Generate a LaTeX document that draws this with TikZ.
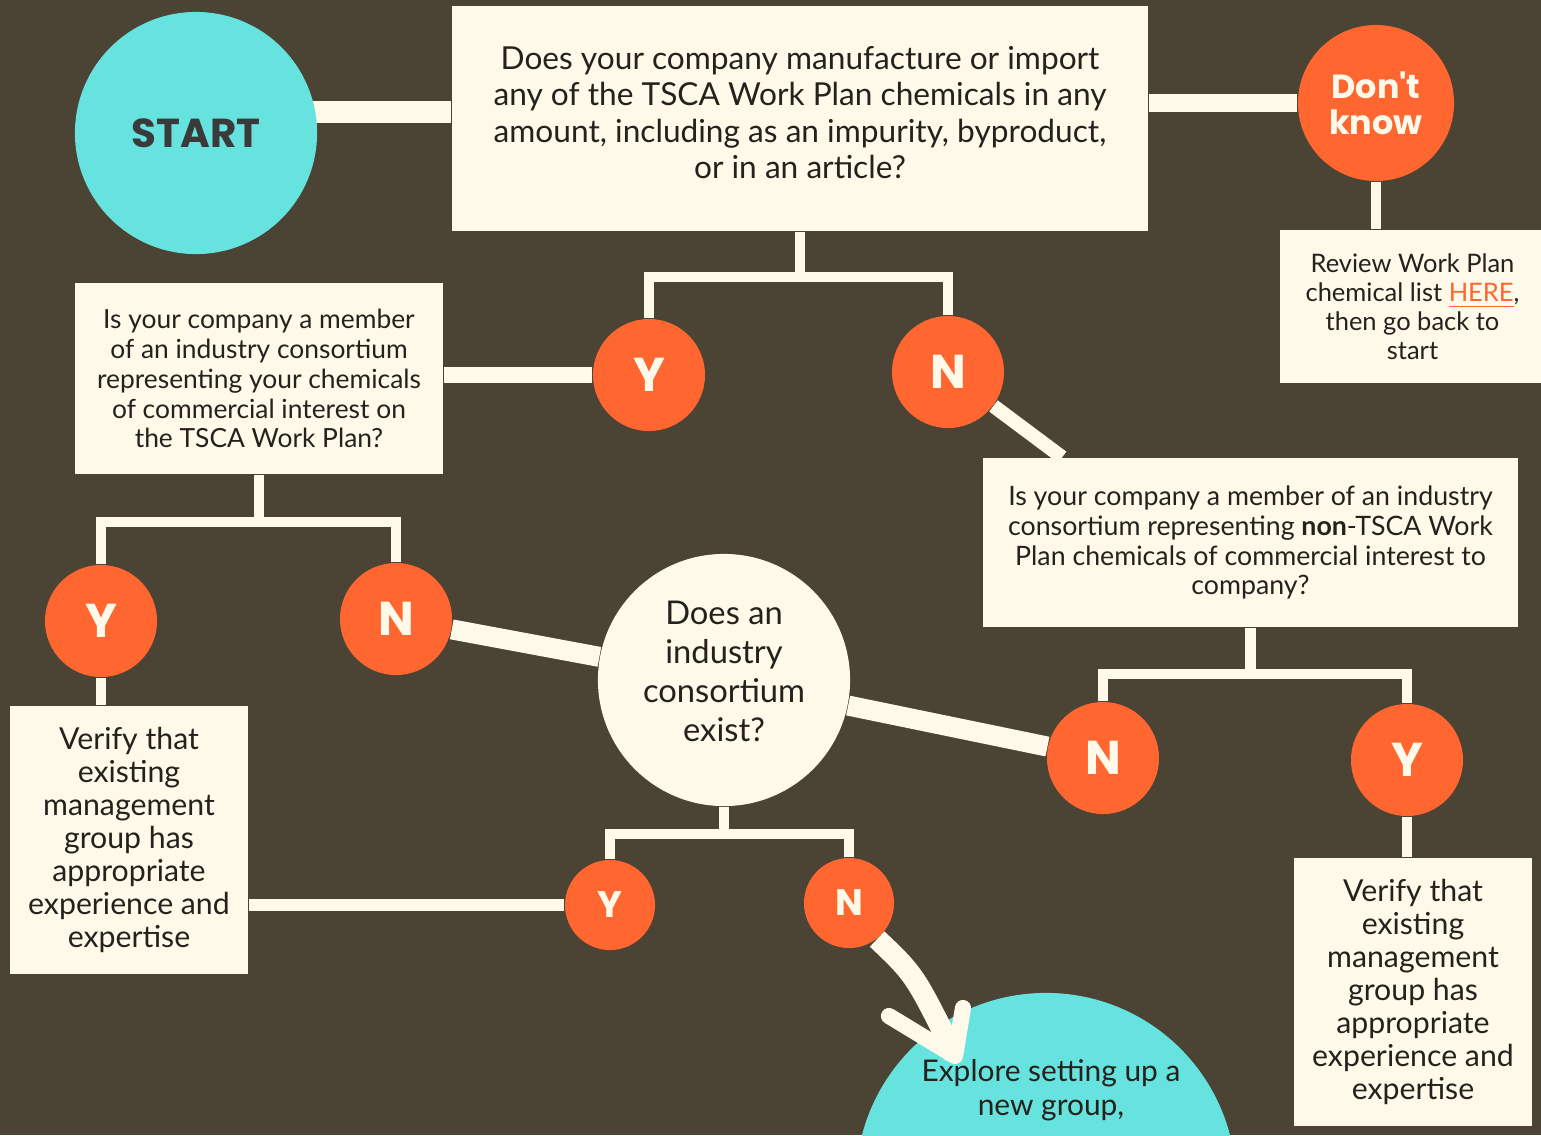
\documentclass[tikz,border=0pt]{standalone}
\usepackage{fontspec}
\setmainfont{Lato}
\newfontfamily\labelfont{Poppins}
\usetikzlibrary{positioning, calc, backgrounds}
\definecolor{bgbrown}{RGB}{75,67,52}
\definecolor{cream}{RGB}{254,249,233}
\definecolor{aqua}{RGB}{102,226,223}
\definecolor{tangerine}{RGB}{255,102,48}
\definecolor{ink}{RGB}{38,33,27}
\definecolor{slate}{RGB}{58,58,58}
\tikzset{
  qbox/.style={fill=cream, text=ink, align=center, inner sep=0pt},
  yn/.style={circle, fill=tangerine, text=cream, minimum size=1.12cm, inner sep=0pt,
    font=\labelfont\bfseries\fontsize{13.5}{13.5}\selectfont},
  ynsmall/.style={yn, minimum size=0.9cm, font=\labelfont\bfseries\fontsize{10.5}{10.5}\selectfont},
  conn/.style={cream, line width=2.85pt},
  thickconn/.style={cream, line width=5.7pt},
}
\begin{document}
\begin{tikzpicture}[x=0.01cm, y=-0.01cm]
  \useasboundingbox (0,0) rectangle (1541,1135);
  \begin{scope}[on background layer]
    \fill[bgbrown] (0,0) rectangle (1541,1135);
  \end{scope}

  % start and first question
  \node[circle, fill=aqua, text=slate, minimum size=2.42cm, inner sep=0pt, font=\labelfont\bfseries\fontsize{11.5}{11.5}\selectfont] (start) at (196,133) {START};
  \node[qbox, minimum width=6.96cm, minimum height=2.25cm, font=\fontsize{9}{10.4}\selectfont] (q1) at (800,118.5) {Does your company manufacture or import\\any of the TSCA Work Plan chemicals in any\\amount, including as an impurity, byproduct,\\or in an article?\\[-7pt]\mbox{}};
  \node[circle, fill=tangerine, text=cream, minimum size=1.56cm, inner sep=0pt, align=center, font=\labelfont\bfseries\fontsize{9.5}{10.2}\selectfont] (dk) at (1376,103) {Don't\\know};
  \node[qbox, minimum width=2.65cm, minimum height=1.53cm, font=\fontsize{7.25}{8.25}\selectfont] (rev) at (1412.5,306.5) {Review Work Plan\\chemical list \textcolor{tangerine}{\underline{HERE}},\\then go back to\\start};

  % answers to the first question
  \node[yn] (yt) at (649,375) {Y};
  \node[yn] (nt) at (948,372) {N};
  \node[qbox, minimum width=3.68cm, minimum height=1.91cm, font=\fontsize{7.5}{8.5}\selectfont] (q2) at (259,378.5) {Is your company a member\\of an industry consortium\\representing your chemicals\\of commercial interest on\\the TSCA Work Plan?};
  \node[qbox, minimum width=5.35cm, minimum height=1.69cm, font=\fontsize{7.6}{8.5}\selectfont] (q3) at (1250.5,542.5) {Is your company a member of an industry\\consortium representing \textbf{non}-TSCA Work\\Plan chemicals of commercial interest to\\company?};

  % second level
  \node[yn] (yl) at (101,621) {Y};
  \node[yn] (nl) at (396,619) {N};
  \node[yn] (nr) at (1103,758) {N};
  \node[yn] (yr) at (1407,760) {Y};
  \node[qbox, minimum width=2.38cm, minimum height=2.68cm, font=\fontsize{8.6}{9.4}\selectfont] (v1) at (129,840) {Verify that\\existing\\management\\group has\\appropriate\\experience and\\expertise};
  \node[qbox, minimum width=2.38cm, minimum height=2.68cm, font=\fontsize{8.6}{9.4}\selectfont] (v2) at (1413,992) {Verify that\\existing\\management\\group has\\appropriate\\experience and\\expertise};
  \node[circle, fill=cream, text=ink, minimum size=2.52cm, inner sep=0pt, align=center, font=\fontsize{9.3}{11.1}\selectfont] (does) at (724,680) {Does an\\industry\\consortium\\exist?\\[-6pt]\mbox{}};

  % consortium answers
  \node[ynsmall] (yb) at (610,905) {Y};
  \node[ynsmall] (nb) at (849,903) {N};
  \node[circle, fill=aqua, minimum size=3.8cm, inner sep=0pt] (explore) at (1046,1183) {};
  \node[text=ink, align=center, font=\fontsize{8.5}{9.7}\selectfont] (exploretxt) at (1051,1090) {Explore setting up a\\new group,};

  % connectors
  \begin{scope}[on background layer]
    \coordinate (startout) at ($(start.center)+(0,-21)$);
    \draw[cream, line width=6pt] (startout) -- (startout -| q1.west);
    \draw[cream, line width=5.1pt] (dk) -- (dk -| q1.east);
    \draw[conn] (dk) -- (dk |- rev.north);
    \draw[conn] (q1.south) -- ++(0,45) -| (yt);
    \draw[conn] (q1.south) -- ++(0,45) -| (nt);
    \draw[cream, line width=4.5pt] (yt) -- (yt -| q2.east);
    \draw[cream, line width=4pt] (nt) -- ($(q3.north west)+(80,0)$);
    \draw[conn] (q2.south) -- ++(0,47) -| (yl);
    \draw[conn] (q2.south) -- ++(0,47) -| (nl);
    \draw[conn] (yl) -- (yl |- v1.north);
    \draw[thickconn] (nl) -- (does);
    \draw[thickconn] (does) -- (nr);
    \draw[conn] (q3.south) -- ++(0,46) -| (nr);
    \draw[conn] (q3.south) -- ++(0,46) -| (yr);
    \draw[conn] (yr) -- (yr |- v2.north);
    \draw[conn] (does.south) -- ++(0,27) -| (yb);
    \draw[conn] (does.south) -- ++(0,27) -| (nb);
    \draw[cream, line width=3.4pt] (yb) -- (yb -| v1.east);
  \end{scope}

  % curved arrow to the new group
  \coordinate (tip) at (955,1056);
  \draw[cream, line width=6pt] (nb.-52) .. controls (915,975) .. (tip);
  \draw[cream, line width=4.6pt, line cap=round, line join=round] (889,1016) -- (tip) -- (963,1008);
\end{tikzpicture}
\end{document}
